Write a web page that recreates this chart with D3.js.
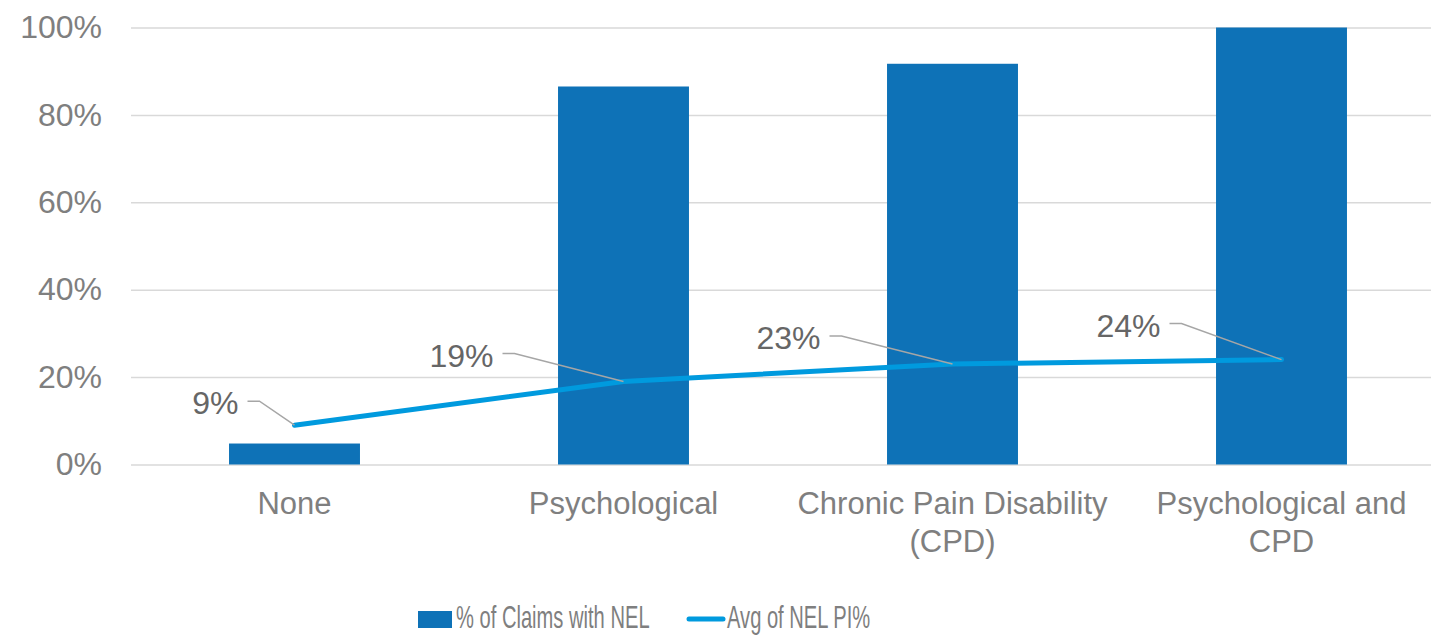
<!DOCTYPE html>
<html>
<head>
<meta charset="utf-8">
<script src="https://cdn.jsdelivr.net/npm/d3@7"></script>
<style>
  html, body { margin: 0; padding: 0; background: #ffffff; }
  svg { display: block; }
  text { font-family: "Liberation Sans", Arial, sans-serif; }
</style>
</head>
<body>
<svg id="chart" width="1431" height="635"></svg>
<script>
// Injury groups on the x axis (each label may wrap onto two lines)
const categories = ["None", "Psychological", "Chronic Pain Disability (CPD)", "Psychological and CPD"];
const categoryLines = [["None"], ["Psychological"], ["Chronic Pain Disability", "(CPD)"], ["Psychological and", "CPD"]];
// Share of claims with a NEL award (bars)
const claimsWithNEL = [0.048, 0.865, 0.917, 1.0];
// Average NEL PI% (line)
const avgNELPI = [0.09, 0.19, 0.23, 0.24];
// Y axis ticks
const yTicks = [0, 0.2, 0.4, 0.6, 0.8, 1.0];
// Series names for the legend
const seriesNames = ["% of Claims with NEL", "Avg of NEL PI%"];

// Data label placement relative to each line point (label right edge / middle)
const labelOffsets = [[-56, -22], [-130, -26], [-132, -26], [-121, -34]];

const svg = d3.select("#chart");
const barColor = "#0E72B7";
const lineColor = "#009ADE";
const gridColor = "#D9D9D9";
const tickColor = "#7F7F7F";
const dataLabelColor = "#666666";
const leaderColor = "#A6A6A6";

const x = d3.scaleBand()
  .domain(categories)
  .range([130, 1446])
  .paddingInner(0.602)
  .paddingOuter(0.301);

const y = d3.scaleLinear().domain([0, 1]).range([464.5, 27.5]);

// Horizontal gridlines and y tick labels
const yAxis = d3.axisLeft(y)
  .tickValues(yTicks)
  .tickFormat(d3.format(".0%"))
  .tickSize(-(1431 - 131))
  .tickPadding(29);

const gy = svg.append("g")
  .attr("transform", "translate(131,0)")
  .call(yAxis);
gy.select(".domain").remove();
gy.selectAll(".tick line").attr("stroke", gridColor).attr("stroke-width", 1.5);
gy.selectAll(".tick text")
  .attr("fill", tickColor)
  .attr("font-size", 32)
  .attr("font-family", "'Liberation Sans', Arial, sans-serif");

// Bars
svg.append("g").selectAll("rect")
  .data(categories)
  .join("rect")
  .attr("x", d => x(d))
  .attr("width", x.bandwidth())
  .attr("y", (d, i) => y(claimsWithNEL[i]))
  .attr("height", (d, i) => y(0) - y(claimsWithNEL[i]))
  .attr("fill", barColor);

// Category labels
const cx = d => x(d) + x.bandwidth() / 2;
const xl = svg.append("g");
categories.forEach((c, i) => {
  const t = xl.append("text")
    .attr("x", cx(c))
    .attr("y", 514)
    .attr("text-anchor", "middle")
    .attr("fill", tickColor)
    .attr("font-size", 31);
  categoryLines[i].forEach((ln, j) => {
    t.append("tspan").attr("x", cx(c)).attr("dy", j === 0 ? 0 : 38).text(ln);
  });
});

// Line series
svg.append("path")
  .datum(avgNELPI)
  .attr("fill", "none")
  .attr("stroke", lineColor)
  .attr("stroke-width", 5)
  .attr("stroke-linecap", "round")
  .attr("stroke-linejoin", "round")
  .attr("d", d3.line().x((d, i) => cx(categories[i])).y(d => y(d)));

// Data labels with leader lines
const fmt = d3.format(".0%");
const pts = categories.map((c, i) => [cx(c), y(avgNELPI[i])]);
const lbl = svg.append("g");
pts.forEach(([px, py], i) => {
  const [dx, dy] = labelOffsets[i];
  const lx = px + dx, ly = py + dy;
  lbl.append("path")
    .attr("d", `M${lx + 9},${ly - 2}H${lx + 21}L${px},${py}`)
    .attr("fill", "none")
    .attr("stroke", leaderColor)
    .attr("stroke-width", 1.5);
  lbl.append("text")
    .attr("x", lx)
    .attr("y", ly)
    .attr("dy", "0.35em")
    .attr("text-anchor", "end")
    .attr("fill", dataLabelColor)
    .attr("font-size", 32)
    .text(fmt(avgNELPI[i]));
});

// Legend (condensed text along the bottom edge)
const lg = svg.append("g");
lg.append("rect")
  .attr("x", 418).attr("y", 611).attr("width", 34).attr("height", 17)
  .attr("fill", barColor);
lg.append("text")
  .attr("transform", "translate(456,628) scale(0.65,1)")
  .attr("fill", tickColor)
  .attr("font-size", 31)
  .text(seriesNames[0]);
lg.append("line")
  .attr("x1", 689).attr("x2", 723).attr("y1", 619).attr("y2", 619)
  .attr("stroke", lineColor).attr("stroke-width", 5).attr("stroke-linecap", "round");
lg.append("text")
  .attr("transform", "translate(727,628) scale(0.65,1)")
  .attr("fill", tickColor)
  .attr("font-size", 31)
  .text(seriesNames[1]);
</script>
</body>
</html>
